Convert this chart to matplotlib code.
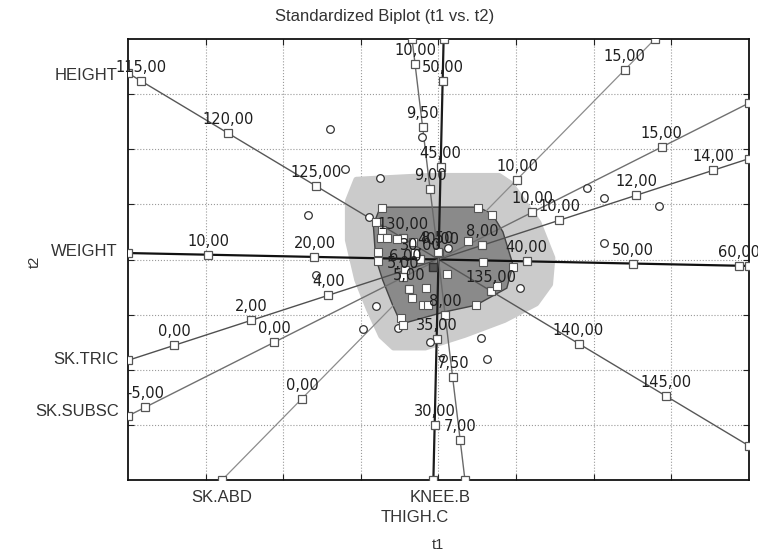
import numpy as np
import matplotlib.pyplot as plt
from matplotlib.patches import Polygon

W, H = 758, 553

# biplot axes: value at the origin and shift in (t1, t2) for one unit of the variable
var_names  = ["HEIGHT", "WEIGHT", "SK.TRIC", "SK.SUBSC", "SK.ABD", "THIGH.C", "KNEE.B"]
var_centre = [132.0, 31.7, 6.86, 6.36, 6.35, 39.6, 8.44]
var_dt1    = [0.2255, 0.1366, 0.4961, 0.3325, 0.2771, 0.00515, -0.1933]
var_dt2    = [-0.1906, -0.0040, 0.2269, 0.2359, 0.3975, 0.3122, 2.2686]
var_ticks  = [
    [115, 120, 125, 130, 135, 140, 145],
    [10, 20, 30, 40, 50, 60],
    [0, 2, 4, 6, 8, 10, 12, 14],
    [-5, 0, 5, 10, 15],
    [0, 5, 10, 15],
    [30, 35, 40, 45, 50],
    [7.0, 7.5, 8.0, 8.5, 9.0, 9.5, 10.0],
]

# scores outside the bag (circles)
out_t1 = [-1.40, -1.21, -0.75, -1.68, -0.90, -1.58, -0.81, -0.97, -0.21, 1.91,
          2.13, 2.84, 2.13, 1.05, 0.55, 0.63, -0.11, 0.06, -0.52, 0.12]
out_t2 = [2.37, 1.64, 1.48, 0.81, 0.77, -0.28, -0.84, -1.26, 2.22, 1.30,
          1.12, 0.97, 0.30, -0.52, -1.43, -1.81, -1.50, -1.79, -1.24, 0.21]

# scores inside the bag (squares)
in_t1 = [-0.73, 0.51, 0.69, -0.81, -0.73, -0.74, -0.66, -0.54, -0.33, -0.78,
         -0.78, -0.30, -0.16, -0.34, -0.20, -0.14, -0.48, -0.46, 0.38, 0.57,
         0.96, 0.11, 0.75, 0.48]
in_t2 = [0.94, 0.94, 0.81, 0.68, 0.54, 0.39, 0.39, 0.37, 0.32, 0.14,
         -0.03, 0.12, -0.52, -0.70, -0.83, -0.83, -1.06, -1.19, 0.34, -0.05,
         -0.14, -0.26, -0.48, -0.83]

median_t1, median_t2 = -0.07, -0.14

bag_t1 = [-0.75, 0.51, 0.69, 0.83, 0.96, 0.88, 0.48, 0.08, -0.48, -0.59, -0.72, -0.81, -0.84]
bag_t2 = [0.95, 0.95, 0.83, 0.50, -0.10, -0.52, -0.83, -0.95, -1.17, -0.83, -0.37, 0.03, 0.63]

loop_t1 = [-1.06, -0.11, 0.78, 0.93, 1.29, 1.47, 1.44, 1.26, 0.85, 0.34,
           -0.17, -0.58, -0.74, -0.90, -1.05, -1.17, -1.17]
loop_t2 = [1.45, 1.52, 1.52, 1.38, 0.67, 0.03, -0.45, -0.80, -1.10, -1.37,
           -1.60, -1.60, -1.39, -0.90, -0.37, 0.35, 1.06]

line_colors = ["#575757", "#111111", "#505050", "#707070", "#8c8c8c", "#1c1c1c", "#6a6a6a"]
line_widths = [1.0, 1.6, 1.0, 1.0, 0.9, 1.6, 1.0]


def fx(px):
    return px / W


def fy(py):
    return 1 - py / H


def main():
    fig = plt.figure(figsize=(W / 100, H / 100), dpi=100)
    ax = fig.add_axes([fx(128), fy(480), (749 - 128) / W, (480 - 39) / H])
    ax.set_xlim(-4, 4)
    ax.set_ylim(-4, 4)
    ax.set_xticks(np.arange(-3, 4))
    ax.set_yticks(np.arange(-3, 4))
    ax.set_xticklabels([])
    ax.set_yticklabels([])
    ax.tick_params(direction="in", length=4, width=0.8, top=True, right=True, color="#222222")
    ax.grid(True, linestyle=":", color="#9a9a9a", linewidth=0.8)
    ax.set_axisbelow(True)
    for s in ax.spines.values():
        s.set_linewidth(1.3)
        s.set_color("#111111")

    # outer loop and inner bag
    ax.add_patch(Polygon(np.column_stack([loop_t1, loop_t2]), closed=True,
                         facecolor="#cbcbcb", edgecolor="#cbcbcb", linewidth=4,
                         joinstyle="round", zorder=1))
    ax.add_patch(Polygon(np.column_stack([bag_t1, bag_t2]), closed=True,
                         facecolor="#8a8a8a", edgecolor="#444444", linewidth=1.0,
                         zorder=2))

    # calibrated variable axes
    for i, name in enumerate(var_names):
        c, a, b = var_centre[i], var_dt1[i], var_dt2[i]
        lim = min(4 / abs(a) if a else np.inf, 4 / abs(b) if b else np.inf)
        u = np.array([-lim, lim])
        ax.plot(u * a, u * b, color=line_colors[i], lw=line_widths[i], zorder=3)
        ax.plot(u * a, u * b, ls="none", marker="s", ms=5.5, mfc="white",
                mec="#555555", mew=0.9, zorder=4)
        tv = np.array(var_ticks[i], dtype=float)
        tx, ty = (tv - c) * a, (tv - c) * b
        ax.plot(tx, ty, ls="none", marker="s", ms=5.5, mfc="white",
                mec="#555555", mew=0.9, zorder=4)
        for v, x, y in zip(tv, tx, ty):
            ax.annotate(f"{v:.2f}".replace(".", ","), (x, y), xytext=(0, 6),
                        textcoords="offset pixels", ha="center", va="bottom",
                        fontsize=10.5, color="#1e1e1e", zorder=6,
                        annotation_clip=False)

    ax.plot(out_t1, out_t2, ls="none", marker="o", ms=5.5, mfc="white",
            mec="#333333", mew=0.9, zorder=5)
    ax.plot(in_t1, in_t2, ls="none", marker="s", ms=5.5, mfc="white",
            mec="#555555", mew=0.8, zorder=5)
    ax.plot([median_t1], [median_t2], ls="none", marker="s", ms=5.5,
            mfc="#555555", mec="#333333", zorder=5)

    name_font = dict(family="Liberation Sans", fontsize=12, color="#333333")
    fig.text(fx(118), fy(75), "HEIGHT", ha="right", va="center", **name_font)
    fig.text(fx(118), fy(252), "WEIGHT", ha="right", va="center", **name_font)
    fig.text(fx(119), fy(360), "SK.TRIC", ha="right", va="center", **name_font)
    fig.text(fx(119), fy(412), "SK.SUBSC", ha="right", va="center", **name_font)
    fig.text(fx(222), fy(498), "SK.ABD", ha="center", va="center", **name_font)
    fig.text(fx(440), fy(498), "KNEE.B", ha="center", va="center", **name_font)
    fig.text(fx(415), fy(517), "THIGH.C", ha="center", va="center", **name_font)

    fig.text(fx(385), fy(16), "Standardized Biplot (t1 vs. t2)", ha="center",
             va="center", family="Liberation Sans", fontsize=12, color="#333333")
    fig.text(fx(438), fy(545), "t1", ha="center", va="center",
             family="Liberation Sans", fontsize=10.5, color="#333333")
    fig.text(fx(35), fy(262), "t2", ha="center", va="center", rotation=90,
             family="Liberation Sans", fontsize=10.5, color="#333333")

    fig.savefig("out.png", dpi=100)


if __name__ == "__main__":
    main()
